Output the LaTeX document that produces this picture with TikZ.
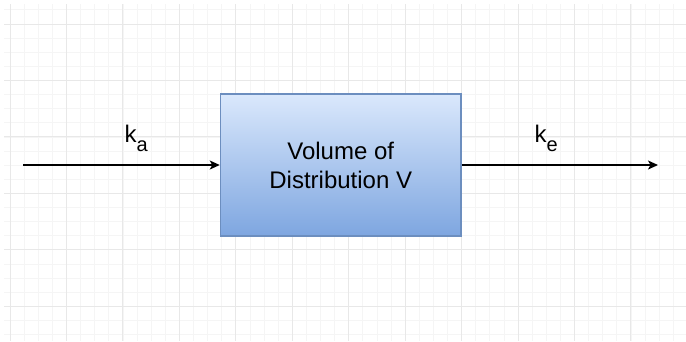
\documentclass[tikz,border=0pt]{standalone}
\usepackage{fontspec}
\setmainfont{Liberation Sans}
\usetikzlibrary{arrows.meta}
\definecolor{gridminor}{HTML}{F5F5F5}
\definecolor{gridmajor}{HTML}{E8E8E8}
\definecolor{boxtop}{HTML}{DAE8FC}
\definecolor{boxbot}{HTML}{7EA6E0}
\definecolor{boxline}{HTML}{6C8EBF}
\tikzset{
  procbox/.style={draw=boxline, line width=1.5pt, top color=boxtop, bottom color=boxbot,
    minimum width=240.5pt, minimum height=142pt, inner sep=0pt, align=center,
    font=\fontsize{24}{29}\selectfont},
  flow/.style={line width=1.4pt, -{Stealth[length=10pt,width=9pt,inset=2.5pt]}},
  ratelabel/.style={anchor=base west, inner sep=0pt}
}
\newcommand{\ratek}[1]{\fontsize{24}{24}\selectfont k\raisebox{-9pt}{\fontsize{20}{20}\selectfont #1}}
\begin{document}
\begin{tikzpicture}[x=1pt,y=-1pt]
\useasboundingbox[fill=white] (0,0) rectangle (686,341);
% grid
\begin{scope}
\clip (4,4) rectangle (686,341);
\foreach \k in {0,...,48} {
  \draw[gridminor, line width=0.8pt] ({10+\k*14.1125},4) -- ({10+\k*14.1125},341);
}
\foreach \k in {-1,...,23} {
  \draw[gridminor, line width=0.8pt] (4,{24+\k*14.1125}) -- (686,{24+\k*14.1125});
}
\foreach \k in {0,...,12} {
  \draw[gridmajor, line width=1pt] ({10+\k*56.45},4) -- ({10+\k*56.45},341);
}
\foreach \k in {0,...,6} {
  \draw[gridmajor, line width=1pt] (4,{24+\k*56.45}) -- (686,{24+\k*56.45});
}
\end{scope}
% diagram
\node[procbox] (vd) at (340.75,165) {Volume of\\Distribution V};
\coordinate (in) at (23,165);
\coordinate (out) at (658,165);
\draw[flow] (in) -- (vd.west);
\draw[flow] (vd.east) -- (out);
\node[ratelabel] (ka) at (124.5,142) {\ratek{a}};
\node[ratelabel] (ke) at (534.5,142) {\ratek{e}};
\end{tikzpicture}
\end{document}
